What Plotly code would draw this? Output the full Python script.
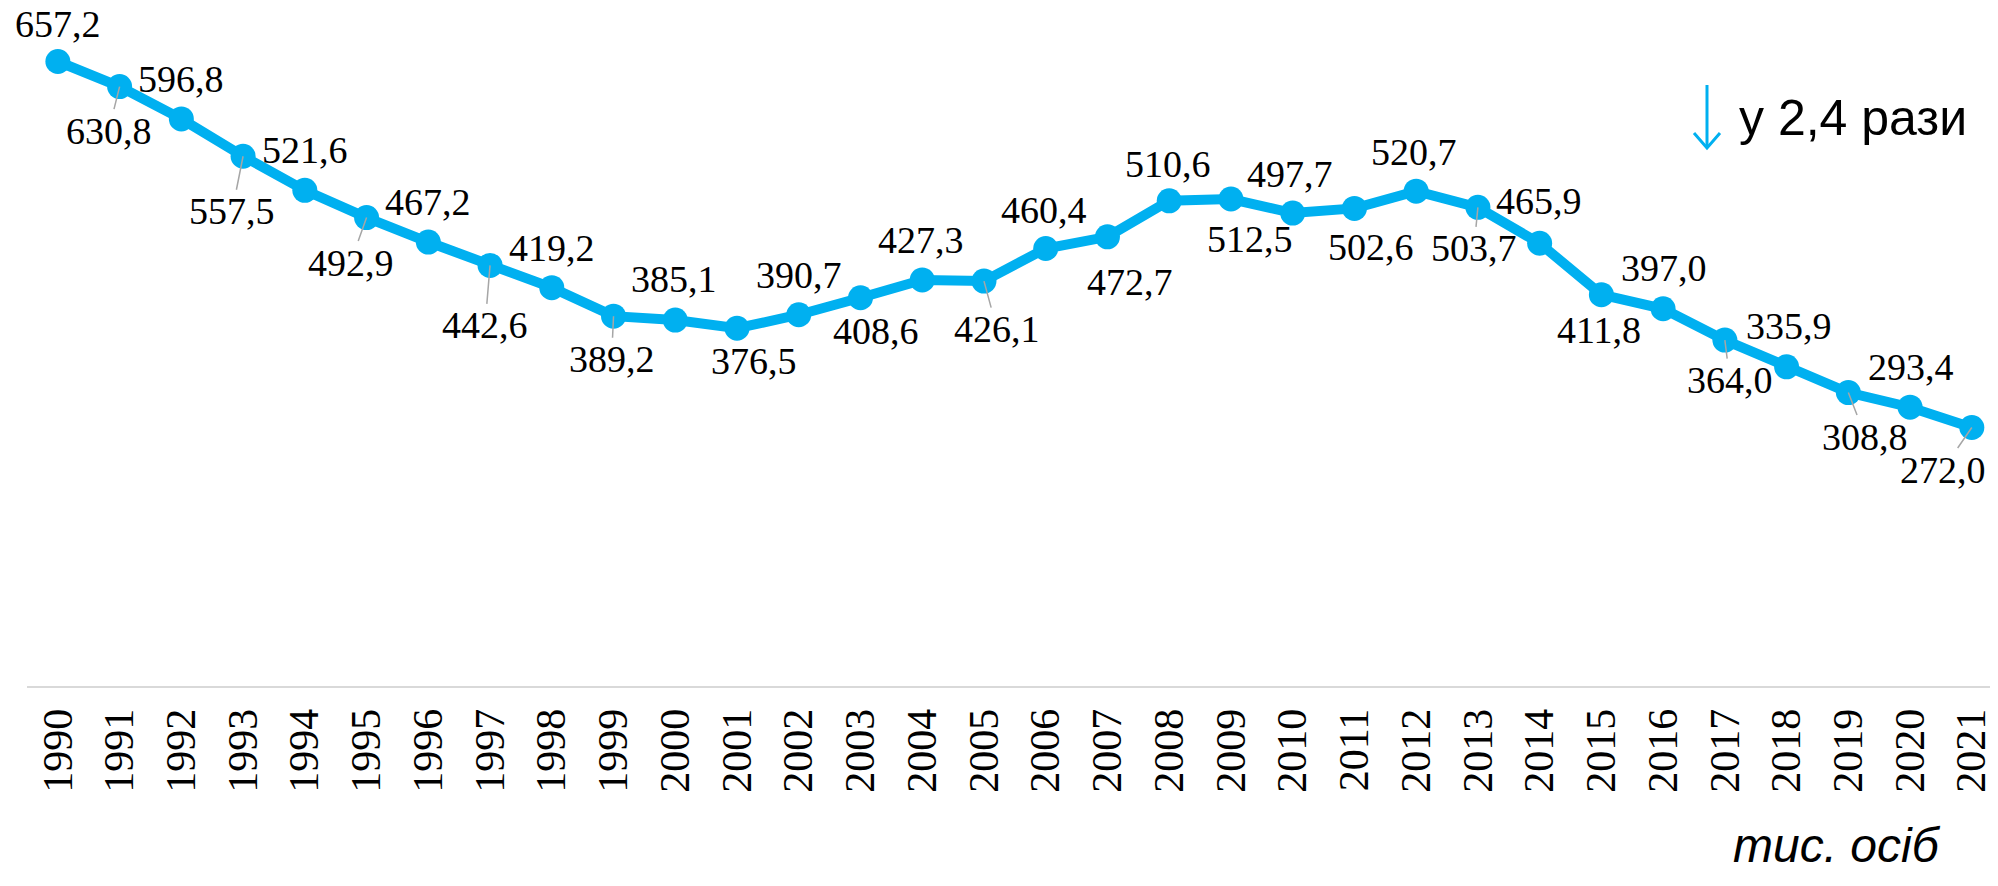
import plotly.graph_objects as go

years = list(range(1990, 2022))
year_labels = [str(y) for y in years]
values = [657.2, 630.8, 596.8, 557.5, 521.6, 492.9, 467.2, 442.6, 419.2, 389.2,
          385.1, 376.5, 390.7, 408.6, 427.3, 426.1, 460.4, 472.7, 510.6, 512.5,
          497.7, 502.6, 520.7, 503.7, 465.9, 411.8, 397.0, 364.0, 335.9, 308.8,
          293.4, 272.0]

# data-label offsets from each point (pixels, dy positive = down) and leader-line flags
label_dx = [0, -11, 0, -11, 0, -16, 0, -5, 0, -2, -1, 17, 0, 15, -1, 13,
            -2, 23, -1, 19, -3, 17, -2, -4, -1, -2, 1, 5, 2, 17, 1, -29]
label_dy = [-38, 44, -40, 55, -40, 45, -40, 60, -40, 43, -41, 33, -40, 33, -40, 48,
            -39, 45, -37, 40, -39, 39, -39, 41, -42, 35, -41, 40, -41, 44, -40, 42]
leader = [0, 1, 0, 1, 0, 1, 0, 1, 0, 1, 0, 0, 0, 0, 0, 1,
          0, 1, 0, 0, 0, 0, 0, 1, 0, 0, 0, 1, 0, 1, 0, 1]

note_text = "у 2,4 рази"
unit_text = "тис. осіб"

BLUE = "#00B0F0"
W, H = 1998, 886
OFF = 8  # page body margin
ML, MR, MT, MB = 19, 8, 0, 208
PW, PH = W - ML - MR, H - MT - MB


def px(x_page):
    return (x_page - OFF - ML) / PW


def py(y_page):
    return (MT + PH - (y_page - OFF)) / PH


xs = list(range(len(years)))

fig = go.Figure()
fig.add_trace(go.Scatter(
    x=xs, y=values, mode="lines+markers",
    line=dict(color=BLUE, width=10),
    marker=dict(color=BLUE, size=25),
    hoverinfo="skip", cliponaxis=False,
))

annotations = []
for i, v in enumerate(values):
    txt = f"{v:.1f}".replace(".", ",")
    font = dict(family="Liberation Serif", size=38, color="black")
    if leader[i]:
        annotations.append(dict(
            x=xs[i], y=v, xref="x", yref="y", text=txt, font=font,
            showarrow=True, ax=label_dx[i], ay=label_dy[i],
            arrowhead=0, arrowwidth=1.5, arrowcolor="#A6A6A6", standoff=0,
            borderpad=0,
        ))
    else:
        annotations.append(dict(
            x=xs[i], y=v, xref="x", yref="y", text=txt, font=font,
            showarrow=False, xshift=label_dx[i], yshift=-label_dy[i],
            xanchor="center", yanchor="middle",
        ))

annotations.append(dict(
    x=px(1737), y=py(118), xref="paper", yref="paper", text=note_text,
    font=dict(family="Liberation Sans", size=50, color="black"),
    showarrow=False, xanchor="left", yanchor="middle",
))
annotations.append(dict(
    x=px(1731), y=py(845), xref="paper", yref="paper", text=unit_text,
    font=dict(family="Liberation Sans", size=48, color="black", style="italic"),
    showarrow=False, xanchor="left", yanchor="middle",
))

shapes = [
    dict(type="line", xref="paper", yref="paper",
         x0=px(1707), y0=py(85), x1=px(1707), y1=py(147),
         line=dict(color=BLUE, width=3)),
    dict(type="path", xref="paper", yref="paper",
         path=f"M {px(1694)},{py(133)} L {px(1707)},{py(148)} L {px(1720)},{py(133)}",
         line=dict(color=BLUE, width=3)),
]

fig.update_layout(
    width=W, height=H,
    margin=dict(l=ML, r=MR, t=MT, b=MB, pad=0),
    paper_bgcolor="white", plot_bgcolor="white",
    showlegend=False,
    annotations=annotations,
    shapes=shapes,
    xaxis=dict(
        range=[-0.5, 31.424], tickvals=xs, ticktext=year_labels, tickangle=-90,
        tickfont=dict(family="Liberation Serif", size=42, color="black"),
        showgrid=False, zeroline=False, showline=True, linecolor="#D9D9D9", linewidth=2,
        ticks="outside", ticklen=4, tickcolor="rgba(0,0,0,0)", automargin=False,
        fixedrange=True,
    ),
    yaxis=dict(range=[0, 713.5], visible=False, showgrid=False, zeroline=False,
               automargin=False, fixedrange=True),
)

fig.write_html("out.html")
